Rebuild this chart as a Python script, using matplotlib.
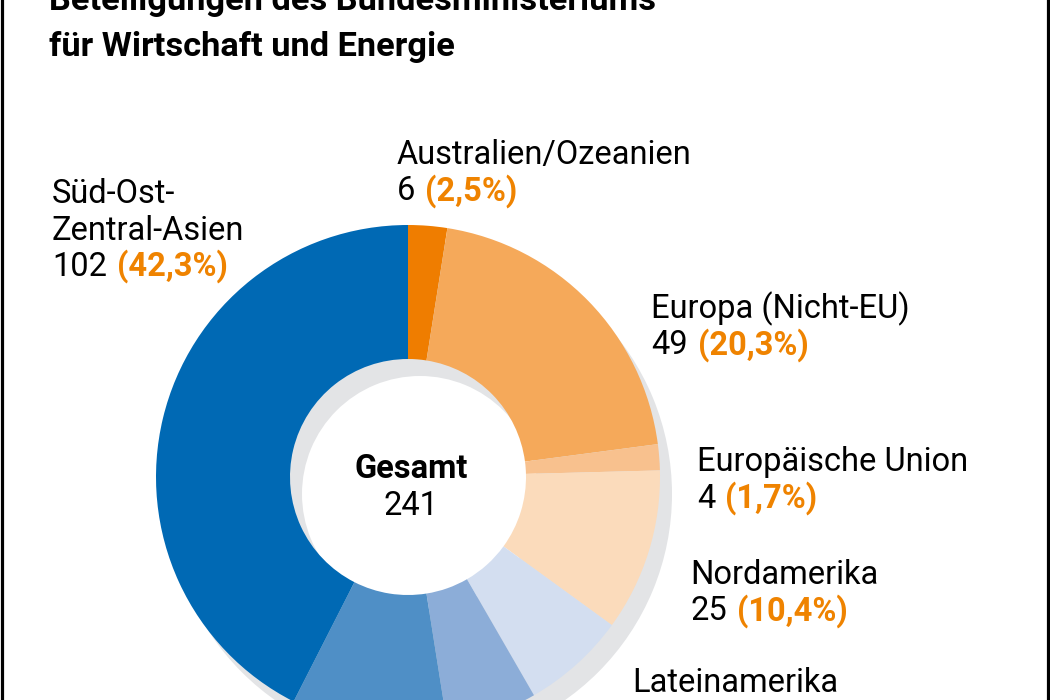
import matplotlib
matplotlib.use("Agg")
import matplotlib.pyplot as plt

# ---- data ----
categories = ["Australien/Ozeanien", "Europa (Nicht-EU)", "Europäische Union",
              "Nordamerika", "Lateinamerika", "Afrika", "Naher/Mittlerer Osten",
              "Süd-Ost-\nZentral-Asien"]
values = [6, 49, 4, 25, 16, 14, 24, 102]
percent_labels = ["2,5%", "20,3%", "1,7%", "10,4%", "6,6%", "5,8%", "10,0%", "42,3%"]
total = 241
colors = ["#EF7D00", "#F5A95A", "#F8C18E", "#FBDBBB",
          "#D3DEF0", "#8CADD8", "#4F8FC6", "#0069B4"]
title_lines = ["Beteiligungen des Bundesministeriums", "für Wirtschaft und Energie"]
center_title = "Gesamt"

W, H = 1050, 700
fig = plt.figure(figsize=(W / 100, H / 100), dpi=100)
fig.patch.set_facecolor("white")
ax = fig.add_axes([0, 0, 1, 1])

FONT = ["Roboto", "DejaVu Sans"]
ORANGE = "#EF8300"

cx, cy = 408, H - 477
R, RIN = 252, 118

# shadow ring
ax.pie([total], colors=["#E3E4E6"], radius=R, center=(cx + 12, cy - 17),
       wedgeprops=dict(width=R - RIN, linewidth=0))
# donut
ax.pie(values, colors=colors, radius=R, center=(cx, cy), startangle=90,
       counterclock=False, wedgeprops=dict(width=R - RIN, linewidth=0))

ax.set_xlim(0, W)
ax.set_ylim(0, H)
ax.set_aspect("equal")
ax.axis("off")

# borders
ax.axvline(1.5, color="black", lw=2.3)
ax.axvline(W - 2.5, color="black", lw=2.3)

LS = 23.5  # label font size (pt)

# title (auto-fit width of second line)
t2 = ax.text(49, H - 56, title_lines[1], fontsize=24, fontweight="bold",
             family=FONT, va="baseline", ha="left", color="black")
fig.canvas.draw()
r = fig.canvas.get_renderer()
w = t2.get_window_extent(r).width
tsize = 24 * 406 / w
t2.set_fontsize(tsize)
ax.text(49, H - 10, title_lines[0], fontsize=tsize, fontweight="bold",
        family=FONT, va="baseline", ha="left", color="black")

# centre text
ax.text(411, H - 478, center_title, fontsize=LS, fontweight="bold", family=FONT,
        ha="center", va="baseline")
ax.text(411, H - 515, str(total), fontsize=LS, family=FONT,
        ha="center", va="baseline")

# label positions: (index, x, first baseline y in image px)
label_pos = [(0, 397, 164), (1, 651, 318), (2, 697, 471), (3, 690, 584),
             (7, 52, 203)]
LINE = 36.5
num_texts = []
for idx, x, y in label_pos:
    name_lines = categories[idx].split("\n")
    for k, ln in enumerate(name_lines):
        ax.text(x, H - (y + k * LINE), ln, fontsize=LS, family=FONT,
                va="baseline", ha="left")
    yy = y + len(name_lines) * LINE
    t = ax.text(x, H - yy, str(values[idx]), fontsize=LS, family=FONT,
                va="baseline", ha="left")
    num_texts.append((t, idx, yy))

# Lateinamerika (only name visible)
ax.text(632, H - 692, categories[4], fontsize=LS, family=FONT,
        va="baseline", ha="left")

fig.canvas.draw()
r = fig.canvas.get_renderer()
for t, idx, yy in num_texts:
    bb = t.get_window_extent(r)
    ax.text(bb.x1 + 10, H - yy, "(" + percent_labels[idx] + ")", fontsize=LS,
            fontweight="bold", family=FONT, color=ORANGE,
            va="baseline", ha="left")

fig.savefig("out.png", dpi=100, facecolor="white")
